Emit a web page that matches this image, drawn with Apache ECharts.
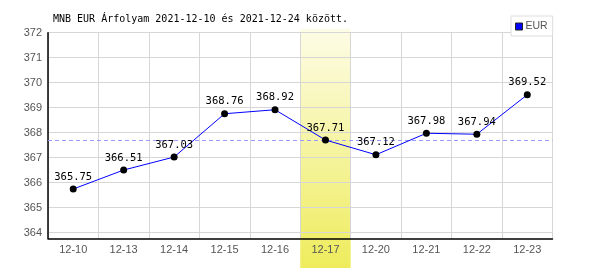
<!DOCTYPE html>
<html><head><meta charset="utf-8">
<script src="https://cdn.jsdelivr.net/npm/echarts@6/dist/echarts.min.js"></script>
<style>html,body{margin:0;padding:0;background:#fff}#c{width:600px;height:270px}</style>
</head><body><div id="c"></div>
<script>
var categories = ['12-10','12-13','12-14','12-15','12-16','12-17','12-20','12-21','12-22','12-23'];
var eurValues = [365.75,366.51,367.03,368.76,368.92,367.71,367.12,367.98,367.94,369.52];
var yTicks = [364,365,366,367,368,369,370,371,372];
var highlightCategory = '12-17';
var titleText = 'MNB EUR Árfolyam 2021-12-10 és 2021-12-24 között.';

var chart = echarts.init(document.getElementById('c'), null, {renderer:'canvas'});
var yMin = yTicks[0], yMax = yTicks[yTicks.length-1];
var extra = 0.22;
var mono = 'DejaVu Sans Mono';
var option = {
  animation:false,
  title:{text:titleText,left:53,top:14,padding:0,textStyle:{fontFamily:mono,fontSize:10,fontWeight:'normal',color:'#000'}},
  legend:{data:[{name:'EUR',itemStyle:{color:'#0000ff',borderColor:'#222',borderWidth:1}}],left:511,top:16,padding:[5,5,4,4],itemGap:0,itemWidth:7,itemHeight:7,borderColor:'#dddddd',borderWidth:1,backgroundColor:'#fff',
    icon:'rect',textStyle:{fontFamily:'Liberation Sans',fontSize:10.5,color:'#555',padding:[0,0,0,-2]}},
  grid:[
    {left:48,right:47.5,top:32.7,bottom:31.7},
    {left:48,right:47.5,top:32.7,bottom:37.3}
  ],
  xAxis:[
    {type:'category',gridIndex:0,data:categories,boundaryGap:true,
     axisLine:{lineStyle:{color:'#000',width:1.5}},axisTick:{show:false},
     axisLabel:{color:'#555',fontFamily:'Liberation Sans',fontSize:11,margin:6},
     splitLine:{show:true,lineStyle:{color:'#d6d6d6',width:1}}},
    {type:'category',gridIndex:1,data:categories,show:false}
  ],
  yAxis:[
    {type:'value',gridIndex:0,min:yMin-extra,max:yMax,axisLabel:{show:false},splitLine:{show:false},axisTick:{show:false},
     axisLine:{show:true,lineStyle:{color:'#000',width:1.5}}},
    {type:'value',gridIndex:1,min:yMin,max:yMax,interval:1,axisLine:{show:false},axisTick:{show:false},
     axisLabel:{color:'#555',fontFamily:'Liberation Sans',fontSize:11,margin:6},
     splitLine:{show:true,lineStyle:{color:'#d6d6d6',width:1}}}
  ],
  series:[{
    name:'EUR',type:'line',xAxisIndex:0,yAxisIndex:0,data:eurValues,
    color:'#0000ff',
    lineStyle:{color:'#0000ff',width:1},
    symbol:'circle',symbolSize:7,itemStyle:{color:'#000'},
    label:{show:true,position:'top',distance:3,color:'#000',fontFamily:mono,fontSize:10.5,
      formatter:function(p){return p.value.toFixed(2);}},
    markLine:{silent:true,symbol:['none','none'],label:{show:false},
      lineStyle:{color:'#9a9aff',type:[4,3],width:1},data:[{type:'average'}]},
    z:5
  }]
};
chart.setOption(option);
// highlight band through the library's scale
var idx = categories.indexOf(highlightCategory);
var cx = chart.convertToPixel({xAxisIndex:0}, idx);
var cx2 = chart.convertToPixel({xAxisIndex:0}, idx+1);
var w = cx2 - cx;
var topY = chart.convertToPixel({yAxisIndex:0}, yMax);
chart.setOption({graphic:[{type:'rect',z:-10,zlevel:0,silent:true,
  shape:{x:cx-w/2,y:topY-4,width:w,height:268-(topY-4)},
  style:{fill:new echarts.graphic.LinearGradient(0,0,0,1,[{offset:0,color:'#fdfce6'},{offset:1,color:'#eeec5c'}])}}]});
</script></body></html>
